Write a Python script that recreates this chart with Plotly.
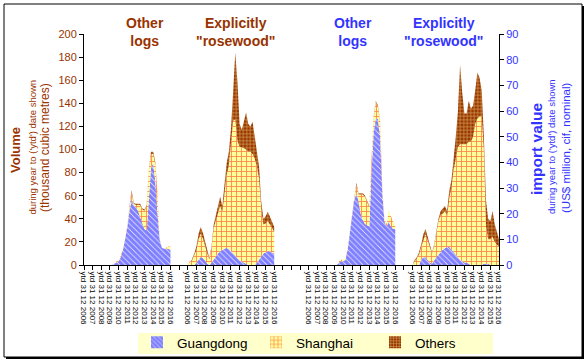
import plotly.graph_objects as go

# ---------------- data ----------------
years = list(range(2006, 2017))
tick_labels = ["ytd 31 12 %d" % y for y in years]
# quarterly observation points between 31 12 2006 and 31 12 2016 (in years)
periods = [2006.0 + q / 4 for q in range(41)]

# Volume (thousand m3) - Other logs
vol_other_guangdong = [0, 0, 0, 0, 0, 0, 0, 0, 0, 0, 0, 0, 0, 0,
                       1, 2, 3, 7, 13, 22, 32, 46, 57, 52, 50, 47, 42, 37, 31, 30, 62, 84, 88, 72, 45, 22, 15, 14, 14, 14, 13]
vol_other_shanghai = [0, 0, 0, 0, 0, 0, 0, 0, 0, 0, 0, 0, 0, 0,
                      0, 1, 1, 1, 1, 1, 1, 3, 6, 1, 2, 5, 10, 11, 16, 21, 20, 12, 8, 15, 15, 1, 0, 0, 1, 2, 3]
vol_other_others = [0, 0, 0, 0, 0, 0, 0, 0, 0, 0, 0, 0, 0, 0,
                    0, 0, 0, 0, 0, 0, 0, 1, 2, 1, 1, 1, 1, 1, 1, 1, 1, 2, 2, 2, 1, 0, 0, 0, 0, 0, 0]

# Volume (thousand m3) - Explicitly "rosewood"
vol_rose_guangdong = [0, 0, 0, 0, 2, 5, 7, 6, 4, 1, 0, 2, 5, 8, 10, 12, 13, 14, 15, 14, 12,
                      10, 8, 6, 4, 3, 2, 1, 0, 0, 0, 0, 2, 5, 8, 10, 11, 12, 12, 11, 10]
vol_rose_shanghai = [0, 3, 4, 8, 11, 17, 20, 17, 12, 9, 5, 12, 27, 31, 36, 39, 33, 48, 63, 72, 91,
                     115, 118, 102, 98, 99, 99, 99, 98, 98, 96, 92, 83, 70, 41, 25, 25, 26, 23, 21, 19]
vol_rose_others = [0, 0, 1, 2, 3, 5, 6, 5, 4, 2, 1, 2, 3, 4, 6, 8, 5, 8, 10, 12, 15,
                   25, 58, 50, 20, 15, 24, 32, 24, 22, 28, 18, 15, 10, 6, 5, 6, 8, 7, 6, 4]

# Import value (US$ million) - Other logs
val_other_guangdong = [0, 0, 0, 0, 0, 0, 0, 0, 0, 0, 0, 0, 0, 0,
                       1, 1.5, 1.5, 2, 6, 12, 19, 25, 28, 25, 20, 17.5, 16, 15.5, 15, 36, 52, 57, 57, 50, 28, 17, 15, 17, 15, 14, 14]
val_other_shanghai = [0, 0, 0, 0, 0, 0, 0, 0, 0, 0, 0, 0, 0, 0,
                      0.5, 0.5, 0.5, 0.5, 0.5, 0.5, 0.5, 1, 3.5, 2.5, 7.5, 10, 10.5, 9, 7.5, 4.5, 5.5, 6.5, 4.5, 5.5, 1.5, 1, 1, 4, 4, 3, 1]
val_other_others = [0, 0, 0, 0, 0, 0, 0, 0, 0, 0, 0, 0, 0, 0,
                    0, 0, 0, 0, 0, 0, 0.5, 0.5, 0.5, 0.5, 0.5, 0.5, 0.5, 0.5, 0.5, 0.5, 0.5, 0.5, 0.5, 0.5, 0.5, 0, 0, 0, 0, 0, 0]

# Import value (US$ million) - Explicitly "rosewood"
val_rose_guangdong = [0, 0, 0, 0, 2, 3, 3, 2, 1, 0.5, 2, 3, 4, 5, 6, 6.5, 7, 7, 6, 5, 4,
                      3, 2, 1.5, 1, 1, 0.5, 0, 0, 0, 0, 0, 0, 0.5, 0.5, 0.5, 0, 0, 0, 0, 0]
val_rose_shanghai = [0, 1.5, 2.5, 4, 5, 7, 9, 7.5, 6, 4, 5.5, 9, 13, 14.5, 14, 14.5, 12, 19, 24, 32, 38,
                     43, 45, 45.5, 46, 46, 47.5, 48, 50, 55, 57, 58, 58, 44.5, 14.5, 9.5, 10, 11, 9, 8, 7]
val_rose_others = [0, 0.5, 0.5, 1, 1, 2, 2, 1.5, 1, 0.5, 0.5, 1, 1, 1.5, 2, 2, 2, 3, 3, 4, 8,
                   14, 31, 20, 12, 12, 16, 13, 12, 13, 18, 15, 10, 5, 10, 8, 7, 10, 7, 5, 3]

# ---------------- layout helpers ----------------
W, H = 588, 362
PL, PR, PT, PB = 84, 499, 34, 265   # plot area in pixels


def px2x(px):
    return (px - PL) / (PR - PL)


def py2y(py):
    return (PB - py) / (PB - PT)


FONT = "Liberation Sans, Arial, sans-serif"
BROWN = "#993300"
BLUE = "#3333FF"
YELLOW = "#FFFF99"

styles = {
    "Guangdong": dict(shape="\\", fgcolor="#0000FF", bgcolor="white", size=4, solidity=0.85),
    "Shanghai": dict(shape="+", fgcolor="#FF0000", bgcolor=YELLOW, size=5, solidity=0.3),
    "Others": dict(shape="+", fgcolor=YELLOW, bgcolor=BROWN, size=3.5, solidity=0.4),
}

groups = [
    ("vol_other", 0, "y", [vol_other_guangdong, vol_other_shanghai, vol_other_others]),
    ("vol_rose", 12, "y", [vol_rose_guangdong, vol_rose_shanghai, vol_rose_others]),
    ("val_other", 26, "y2", [val_other_guangdong, val_other_shanghai, val_other_others]),
    ("val_rose", 38, "y2", [val_rose_guangdong, val_rose_shanghai, val_rose_others]),
]
series_names = ["Guangdong", "Shanghai", "Others"]

fig = go.Figure()
for gname, offset, yax, series in groups:
    xs = [offset + (p - years[0]) for p in periods]
    for name, vals in zip(series_names, series):
        st = styles[name]
        fig.add_trace(go.Scatter(
            x=xs, y=vals, stackgroup=gname, yaxis=yax, mode="lines",
            line=dict(width=0), fillcolor=st["bgcolor"], fillpattern=st,
            showlegend=False, hoverinfo="skip", name=name))

# legend entries (patterned squares)
for name in series_names:
    st = styles[name]
    fig.add_trace(go.Bar(x=[None], y=[None], name=name, hoverinfo="skip",
                         marker=dict(color=st["bgcolor"], pattern=st, line=dict(width=0))))

# x tick marks at every step, labels only on group years
tickvals = list(range(49))
ticktext = []
for k in tickvals:
    lab = ""
    for gname, offset, yax, series in groups:
        if offset <= k <= offset + 10:
            lab = tick_labels[k - offset]
    ticktext.append(lab)

fig.update_layout(
    width=W, height=H, autosize=False,
    margin=dict(l=PL, r=W - PR, t=PT, b=H - PB, pad=0, autoexpand=False),
    paper_bgcolor="white", plot_bgcolor="rgba(0,0,0,0)",
    font=dict(family=FONT, color="black"),
    hovermode=False,
    xaxis=dict(range=[0, 48], tickmode="array", tickvals=tickvals, ticktext=ticktext,
               tickangle=90, tickfont=dict(size=8, color="black"), ticks="outside",
               ticklen=4, tickcolor="black", showline=True, linecolor="black", linewidth=1,
               showgrid=False, zeroline=False, fixedrange=True),
    yaxis=dict(range=[0, 200], dtick=20, tickfont=dict(size=11, color=BROWN), ticks="outside",
               ticklen=4, tickcolor="black", showline=True, linecolor="black", linewidth=1,
               showgrid=False, zeroline=False, fixedrange=True),
    yaxis2=dict(range=[0, 90], dtick=10, overlaying="y", side="right", anchor="x",
                tickfont=dict(size=11, color=BLUE), ticks="outside", ticklen=4, tickcolor="black",
                showline=True, linecolor="black", linewidth=1, showgrid=False, zeroline=False,
                fixedrange=True),
    showlegend=True,
    legend=dict(orientation="h", x=px2x(137), y=py2y(327), xanchor="left", yanchor="top",
                bgcolor="rgba(0,0,0,0)", borderwidth=0, font=dict(size=13.5, color="black"),
                traceorder="normal", entrywidth=74, entrywidthmode="pixels"),
)

# chart border with shadow
fig.add_shape(type="rect", xref="paper", yref="paper", layer="below",
              x0=px2x(6), x1=px2x(584), y0=py2y(359), y1=py2y(6),
              fillcolor="black", line=dict(width=0))
fig.add_shape(type="rect", xref="paper", yref="paper", layer="below",
              x0=px2x(4), x1=px2x(582), y0=py2y(357), y1=py2y(4),
              fillcolor="white", line=dict(color="black", width=1))
# legend background box
fig.add_shape(type="rect", xref="paper", yref="paper", layer="below",
              x0=px2x(138), x1=px2x(493), y0=py2y(354), y1=py2y(333),
              fillcolor="#FFFFCC", line=dict(width=0))

# group titles
titles = [("Other<br>logs", 145, BROWN), ('Explicitly<br>"rosewood"', 235, BROWN),
          ("Other<br>logs", 353, BLUE), ('Explicitly<br>"rosewood"', 443, BLUE)]
for txt, cx, col in titles:
    fig.add_annotation(text="<b>%s</b>" % txt, x=px2x(cx), y=py2y(32), xref="paper", yref="paper",
                       showarrow=False, xanchor="center", yanchor="middle",
                       font=dict(size=14, color=col, family=FONT))

# axis titles
axis_titles = [
    ("<b>Volume</b>", 15, 150, 13, BROWN),
    ("during year to ('ytd') date shown", 31.5, 147, 9.5, BROWN),
    ("(thousand cubic metres)", 45, 148, 12, BROWN),
    ("<b>import value</b>", 536, 149, 15.5, BLUE),
    ("during year to ('ytd') date shown", 551, 147, 9.5, BLUE),
    ("(US$ million, cif, nominal)", 566, 148, 11.5, BLUE),
]
for txt, cx, cy, size, col in axis_titles:
    fig.add_annotation(text=txt, x=px2x(cx), y=py2y(cy), xref="paper", yref="paper",
                       showarrow=False, textangle=-90, xanchor="center", yanchor="middle",
                       font=dict(size=size, color=col, family=FONT))

fig.write_html("out.html", config={"displayModeBar": False},
               post_script="document.body.style.margin='0';")
